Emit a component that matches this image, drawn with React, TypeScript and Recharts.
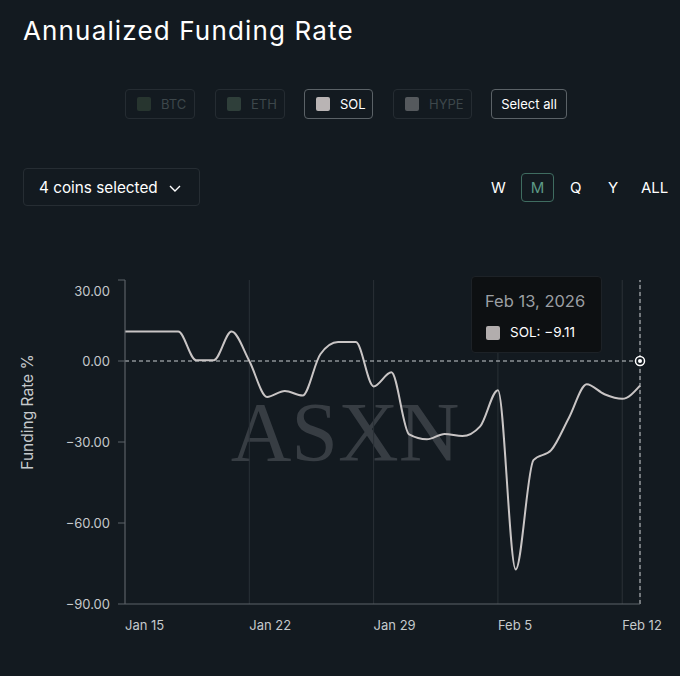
import {
  LineChart,
  Line,
  XAxis,
  YAxis,
  CartesianGrid,
  ReferenceLine,
  ReferenceDot,
} from "recharts";

// ─── Data ─────────────────────────────────────────────────────────────────────

const DATES = [
  "Jan 15", "Jan 16", "Jan 17", "Jan 18", "Jan 19", "Jan 20", "Jan 21",
  "Jan 22", "Jan 23", "Jan 24", "Jan 25", "Jan 26", "Jan 27", "Jan 28",
  "Jan 29", "Jan 30", "Jan 31", "Feb 1", "Feb 2", "Feb 3", "Feb 4",
  "Feb 5", "Feb 6", "Feb 7", "Feb 8", "Feb 9", "Feb 10", "Feb 11",
  "Feb 12", "Feb 13",
];

const SOL_RATE = [
  10.9, 10.9, 10.9, 10.9, 0.3, 0.3, 10.9,
  0, -13.3, -11.1, -12.8, 2.5, 7, 7,
  -9.4, -4.2, -27.2, -29, -27, -27.8, -24.2,
  -10.8, -77.2, -36.7, -33, -21, -8.6, -12.3,
  -14, -9.11,
];

const X_TICKS = [0, 7, 14, 21, 28];
const Y_TICKS = [30, 0, -30, -60, -90];

const COINS = ["BTC", "ETH", "SOL", "HYPE"];
const COIN_SWATCH = ["#27352f", "#2f3f3a", "#b9b4b4", "#55595d"];
const COIN_ACTIVE = [false, false, true, false];
const RANGES = ["W", "M", "Q", "Y", "ALL"];
const RANGE_X = [491, 521, 570, 608, 641];

const data = SOL_RATE.map((v, i) => ({ i, sol: v }));

// ─── Styles ───────────────────────────────────────────────────────────────────

const BG = "#131a20";
const FONT = "Inter, 'Noto Sans', sans-serif";
const TICK_COLOR = "#c5c9cc";
const AXIS_COLOR = "#5c6268";
const GRID_COLOR = "#2a3137";
const CROSS_COLOR = "#c9cdd0";

function fmt(v: number) {
  const s = Math.abs(v).toFixed(2);
  return v < 0 ? `\u2212${s}` : s;
}

function XTick({ x, y, payload }: any) {
  return (
    <text x={x} y={y} dy={18} textAnchor="start" fill={TICK_COLOR} fontSize={13} fontFamily={FONT}>
      {DATES[payload.value]}
    </text>
  );
}

// top label sits a bit under its tick, as in the source app
function YTick({ x, y, payload }: any) {
  const shift = payload.value === 30 ? 11 : 0;
  return (
    <text x={x} y={y + shift} dy="0.35em" textAnchor="end" fill={TICK_COLOR} fontSize={13} fontFamily={FONT}>
      {fmt(payload.value)}
    </text>
  );
}

// ─── Header controls ──────────────────────────────────────────────────────────

function CoinButtons() {
  const lefts = [125, 215, 304, 393];
  const widths = [70, 70, 69, 79];
  return (
    <>
      {COINS.map((c, k) => (
        <div
          key={c}
          style={{
            position: "absolute",
            left: lefts[k],
            top: 89,
            width: widths[k],
            height: 30,
            boxSizing: "border-box",
            border: `1px solid ${COIN_ACTIVE[k] ? "#5b6267" : "#252c32"}`,
            borderRadius: 4,
            display: "flex",
            alignItems: "center",
            paddingLeft: 11,
            gap: 10,
            fontSize: 13,
            color: COIN_ACTIVE[k] ? "#ffffff" : "#3d474b",
          }}
        >
          <span style={{ width: 14, height: 14, borderRadius: 2, background: COIN_SWATCH[k] }} />
          <span>{c}</span>
        </div>
      ))}
      <div
        style={{
          position: "absolute",
          left: 491,
          top: 89,
          width: 76,
          height: 30,
          boxSizing: "border-box",
          border: "1px solid #5b6267",
          borderRadius: 4,
          display: "flex",
          alignItems: "center",
          justifyContent: "center",
          fontSize: 13,
          color: "#ffffff",
        }}
      >
        Select all
      </div>
    </>
  );
}

function Controls() {
  return (
    <>
      <div
        style={{
          position: "absolute",
          left: 23,
          top: 168,
          width: 177,
          height: 38,
          boxSizing: "border-box",
          border: "1px solid #262d33",
          borderRadius: 4,
          display: "flex",
          alignItems: "center",
          paddingLeft: 15,
          fontSize: 15.3,
          color: "#ffffff",
        }}
      >
        4 coins selected
        <svg width="12" height="8" style={{ position: "absolute", left: 145, top: 16 }}>
          <polyline points="1,1 6,6 11,1" fill="none" stroke="#ffffff" strokeWidth="1.4" />
        </svg>
      </div>
      {RANGES.map((r, k) => {
        const active = r === "M";
        return (
          <div
            key={r}
            style={{
              position: "absolute",
              left: RANGE_X[k],
              top: 173,
              height: 29,
              width: active ? 33 : undefined,
              boxSizing: "border-box",
              border: active ? "1.5px solid #3f6c60" : "none",
              borderRadius: 4,
              display: "flex",
              alignItems: "center",
              justifyContent: "center",
              fontSize: 15,
              color: active ? "#5d9986" : "#ffffff",
            }}
          >
            {r}
          </div>
        );
      })}
    </>
  );
}

function TooltipBox() {
  return (
    <div
      style={{
        position: "absolute",
        left: 471,
        top: 276,
        width: 131,
        height: 77,
        boxSizing: "border-box",
        background: "#0d1012",
        border: "1px solid #1d2227",
        borderRadius: 4,
      }}
    >
      <div style={{ position: "absolute", left: 13, top: 14, fontSize: 16.5, color: "#9b9fa3" }}>
        Feb 13, 2026
      </div>
      <div
        style={{
          position: "absolute",
          left: 14,
          top: 49,
          width: 14,
          height: 14,
          borderRadius: 2,
          background: "#b2adad",
        }}
      />
      <div style={{ position: "absolute", left: 38, top: 47, fontSize: 13.5, color: "#ffffff" }}>
        SOL: {fmt(SOL_RATE[SOL_RATE.length - 1])}
      </div>
    </div>
  );
}

// ─── App ──────────────────────────────────────────────────────────────────────

export default function App() {
  const last = SOL_RATE.length - 1;
  return (
    <div
      style={{
        position: "fixed",
        left: 0,
        top: 0,
        width: 680,
        height: 676,
        background: BG,
        fontFamily: FONT,
        overflow: "hidden",
      }}
    >
      <div style={{ position: "absolute", left: 23, top: 15, fontSize: 26, color: "#ffffff", letterSpacing: 1.15 }}>
        Annualized Funding Rate
      </div>

      <CoinButtons />
      <Controls />

      {/* watermark and axis title */}
      <svg width={680} height={676} style={{ position: "absolute", left: 0, top: 0 }}>
        <text
          x={345}
          y={461}
          textAnchor="middle"
          fontSize={84}
          fontFamily="'Liberation Serif', 'DejaVu Serif', serif"
          fill="#373d43"
        >
          ASXN
        </text>
        <text
          x={33}
          y={412}
          transform="rotate(-90 33 412)"
          textAnchor="middle"
          fontSize={15.5}
          fontFamily={FONT}
          fill={TICK_COLOR}
        >
          Funding Rate %
        </text>
      </svg>

      <div style={{ position: "absolute", left: 0, top: 0 }}>
        <LineChart
          width={680}
          height={676}
          data={data}
          margin={{ top: 280, right: 40, bottom: 42, left: 20 }}
        >
          <CartesianGrid horizontal={false} stroke={GRID_COLOR} />
          <XAxis
            dataKey="i"
            type="number"
            domain={[0, last]}
            ticks={X_TICKS}
            tick={<XTick />}
            tickLine={false}
            axisLine={{ stroke: AXIS_COLOR }}
            height={30}
          />
          <YAxis
            type="number"
            domain={[-90, 30]}
            ticks={Y_TICKS}
            tick={<YTick />}
            tickSize={7}
            tickMargin={8}
            tickLine={{ stroke: AXIS_COLOR }}
            axisLine={{ stroke: AXIS_COLOR }}
            width={105}
          />
          <ReferenceLine y={0} stroke={CROSS_COLOR} strokeDasharray="4 3" />
          <ReferenceLine x={last} stroke={CROSS_COLOR} strokeDasharray="4 3" />
          <Line
            dataKey="sol"
            type="monotone"
            stroke="#c9c5c5"
            strokeWidth={2}
            dot={false}
            isAnimationActive={false}
          />
          <ReferenceDot x={last} y={0} r={4.5} fill={BG} stroke="#ffffff" strokeWidth={1.5} />
          <ReferenceDot x={last} y={0} r={2} fill="#ffffff" stroke="none" />
        </LineChart>
      </div>

      <TooltipBox />
    </div>
  );
}
